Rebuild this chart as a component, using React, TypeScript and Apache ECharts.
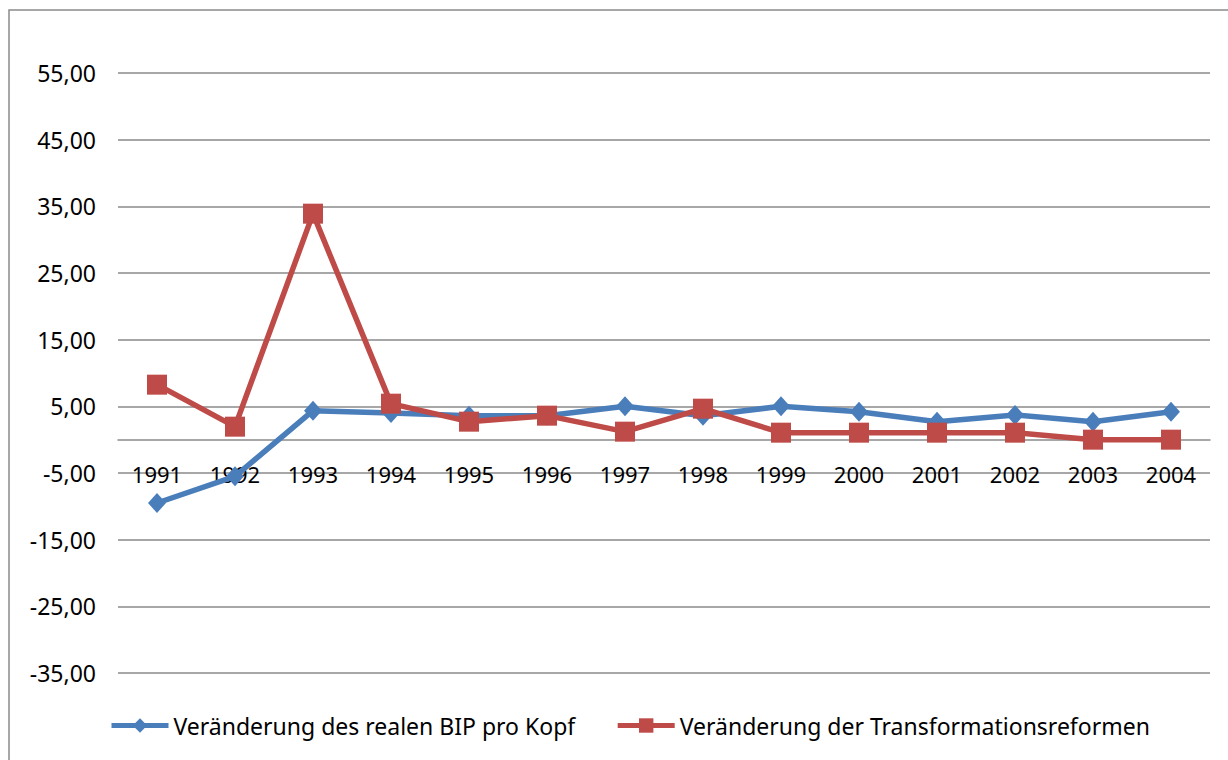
import React, { useEffect, useRef } from "react";
import * as echarts from "echarts";

const years = ["1991","1992","1993","1994","1995","1996","1997","1998","1999","2000","2001","2002","2003","2004"];
const bipValues = [-9.5, -5.5, 4.35, 4.0, 3.6, 3.6, 5.0, 3.6, 5.0, 4.2, 2.7, 3.7, 2.7, 4.2];
const reformValues = [8.25, 1.95, 33.9, 5.4, 2.7, 3.6, 1.2, 4.65, 1.05, 1.05, 1.05, 1.05, 0, 0];
const seriesNames = ["Veränderung des realen BIP pro Kopf", "Veränderung der Transformationsreformen"];

const FONT = "Noto Sans";

export default function App() {
  const ref = useRef<HTMLDivElement>(null);
  useEffect(() => {
    if (!ref.current) return;
    const chart = echarts.init(ref.current, undefined, { renderer: "svg" });
    chart.setOption({
      animation: false,
      backgroundColor: "#ffffff",
      textStyle: { fontFamily: FONT },
      graphic: [
        {
          type: "rect",
          shape: { x: 9, y: 10, width: 1260, height: 800 },
          style: { fill: "none", stroke: "#8a8a8a", lineWidth: 1.5 },
          silent: true,
          z: -1,
        },
      ],
      grid: { left: 118, right: 18, top: 73, bottom: 87, containLabel: false },
      legend: {
        top: 709,
        left: 104,
        itemWidth: 57,
        itemHeight: 18,
        itemGap: 40,
        lineStyle: { width: 5 },
        textStyle: { fontFamily: FONT, fontSize: 23, color: "#000" },
        data: seriesNames,
      },
      xAxis: {
        type: "category",
        data: years,
        boundaryGap: true,
        axisLine: { onZero: true, lineStyle: { color: "#8a8a8a", width: 1.5 } },
        axisTick: { show: false },
        axisLabel: { interval: 0, fontFamily: FONT, fontSize: 22, color: "#000", margin: -210 },
      },
      yAxis: {
        type: "value",
        min: -35,
        max: 55,
        interval: 10,
        axisLine: { show: false },
        axisTick: { show: false },
        axisLabel: {
          fontFamily: FONT,
          fontSize: 23,
          color: "#000",
          margin: 22,
          formatter: (v: number) => v.toFixed(2).replace(".", ","),
        },
        splitLine: { show: true, lineStyle: { color: "#8a8a8a", width: 1.5 } },
      },
      series: [
        {
          name: seriesNames[0],
          type: "line",
          data: bipValues,
          color: "#4A7EBB",
          lineStyle: { width: 5.5, color: "#4A7EBB" },
          symbol: "diamond",
          symbolSize: [18, 20],
          itemStyle: { color: "#4A7EBB" },
          z: 2,
        },
        {
          name: seriesNames[1],
          type: "line",
          data: reformValues,
          color: "#BE4B48",
          lineStyle: { width: 5.5, color: "#BE4B48" },
          symbol: "rect",
          symbolSize: 20,
          itemStyle: { color: "#BE4B48" },
          z: 3,
        },
      ],
    });
    return () => chart.dispose();
  }, []);
  return (
    <div
      ref={ref}
      style={{ position: "fixed", left: 0, top: 0, width: 1228, height: 760 }}
    />
  );
}
